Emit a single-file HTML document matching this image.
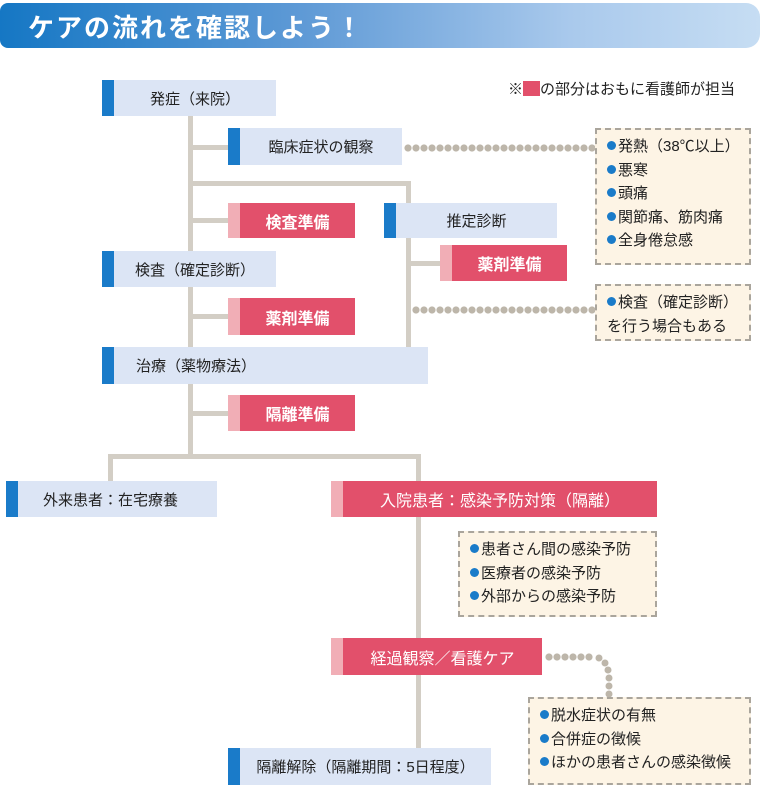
<!DOCTYPE html>
<html><head><meta charset="utf-8"><style>
*{margin:0;padding:0;box-sizing:border-box}
body{width:760px;height:798px;background:#fff;position:relative;overflow:hidden;font-family:"Liberation Sans","Noto Sans CJK JP",sans-serif;color:#222}
.hd{position:absolute;left:0;top:3px;width:760px;height:45px;border-radius:8px 14px 14px 8px;background:linear-gradient(90deg,#1577c4 0%,#5f9ad6 40%,#a9c9ec 75%,#c6ddf3 100%)}
.hd span{position:absolute;left:28px;top:5px;color:#fff;font-size:26px;font-weight:bold;letter-spacing:2px}
.n{position:absolute;background:#dce5f5;font-size:15px;display:flex;align-items:center;justify-content:center;padding-left:12px}
.n::before{content:"";position:absolute;left:0;top:0;bottom:0;width:12px;background:#1a7bc9}
.p{position:absolute;background:#e2506b;color:#fff;font-size:16px;font-weight:bold;display:flex;align-items:center;justify-content:center;padding-left:12px}
.p::before{content:"";position:absolute;left:0;top:0;bottom:0;width:12px;background:#f1aeb6}
.l{position:absolute;background:#d3cec5}
.i{position:absolute;background:#fdf4e5;border:2px dashed #aaa59c;font-size:15px;line-height:23.5px;padding:5px 0 0 10px}
.i b{display:inline-block;width:9px;height:9px;border-radius:50%;background:#1a7bc9;margin-right:2px;vertical-align:1px}
.d{position:absolute;height:8px;background:radial-gradient(circle at 4px 4px,#bdb6aa 3.3px,transparent 3.8px) 0 0/8px 8px repeat-x}
</style></head><body>
<div class="hd"><span>ケアの流れを確認しよう！</span></div>
<div style="position:absolute;left:508px;top:78px;font-size:15px">※<span style="display:inline-block;width:17px;height:15px;background:#e2506b;vertical-align:-2px"></span>の部分はおもに看護師が担当</div>

<div class="l" style="left:188px;top:116px;width:5px;height:342px"></div>
<div class="l" style="left:190px;top:145px;width:40px;height:5px"></div>
<div class="l" style="left:190px;top:181px;width:220px;height:5px"></div>
<div class="l" style="left:406px;top:181px;width:5px;height:167px"></div>
<div class="l" style="left:190px;top:218px;width:40px;height:5px"></div>
<div class="l" style="left:408px;top:261px;width:34px;height:5px"></div>
<div class="l" style="left:190px;top:314px;width:40px;height:5px"></div>
<div class="l" style="left:190px;top:411px;width:40px;height:5px"></div>
<div class="l" style="left:108px;top:454px;width:313px;height:5px"></div>
<div class="l" style="left:108px;top:454px;width:5px;height:28px"></div>
<div class="l" style="left:416px;top:454px;width:5px;height:28px"></div>
<div class="l" style="left:416px;top:517px;width:5px;height:232px"></div>

<div class="d" style="left:404px;top:144px;width:192px"></div>
<div class="d" style="left:412px;top:306px;width:184px"></div>
<div class="d" style="left:545px;top:653px;width:48px"></div>
<svg style="position:absolute;left:580px;top:650px" width="40" height="50"><g fill="#bdb6aa"><circle cx="19" cy="8" r="3.5"/><circle cx="25" cy="13" r="3.5"/><circle cx="28" cy="20" r="3.5"/><circle cx="29" cy="28" r="3.5"/><circle cx="29" cy="36" r="3.5"/><circle cx="29" cy="44" r="3.5"/></g></svg>

<div class="n" style="left:102px;top:80px;width:174px;height:36px">発症（来院）</div>
<div class="n" style="left:228px;top:128px;width:174px;height:37px">臨床症状の観察</div>
<div class="p" style="left:228px;top:203px;width:127px;height:35px">検査準備</div>
<div class="n" style="left:384px;top:203px;width:173px;height:35px">推定診断</div>
<div class="p" style="left:440px;top:245px;width:127px;height:36px">薬剤準備</div>
<div class="n" style="left:102px;top:251px;width:174px;height:36px">検査（確定診断）</div>
<div class="p" style="left:228px;top:298px;width:127px;height:37px">薬剤準備</div>
<div class="n" style="left:102px;top:347px;width:326px;height:37px;justify-content:flex-start;padding-left:34px">治療（薬物療法）</div>
<div class="p" style="left:228px;top:395px;width:127px;height:36px">隔離準備</div>
<div class="n" style="left:6px;top:481px;width:211px;height:36px;justify-content:flex-start;padding-left:37px">外来患者：在宅療養</div>
<div class="p" style="left:331px;top:481px;width:326px;height:36px;font-weight:normal">入院患者：感染予防対策（隔離）</div>
<div class="p" style="left:331px;top:638px;width:211px;height:37px;font-weight:normal">経過観察／看護ケア</div>
<div class="n" style="left:228px;top:748px;width:263px;height:37px">隔離解除（隔離期間：5日程度）</div>

<div class="i" style="left:595px;top:128px;width:156px;height:137px"><b></b>発熱（38℃以上）<br><b></b>悪寒<br><b></b>頭痛<br><b></b>関節痛、筋肉痛<br><b></b>全身倦怠感</div>
<div class="i" style="left:595px;top:284px;width:156px;height:57px"><b></b>検査（確定診断）<br>を行う場合もある</div>
<div class="i" style="left:458px;top:531px;width:199px;height:86px"><b></b>患者さん間の感染予防<br><b></b>医療者の感染予防<br><b></b>外部からの感染予防</div>
<div class="i" style="left:528px;top:697px;width:223px;height:88px"><b></b>脱水症状の有無<br><b></b>合併症の徴候<br><b></b>ほかの患者さんの感染徴候</div>
</body></html>
